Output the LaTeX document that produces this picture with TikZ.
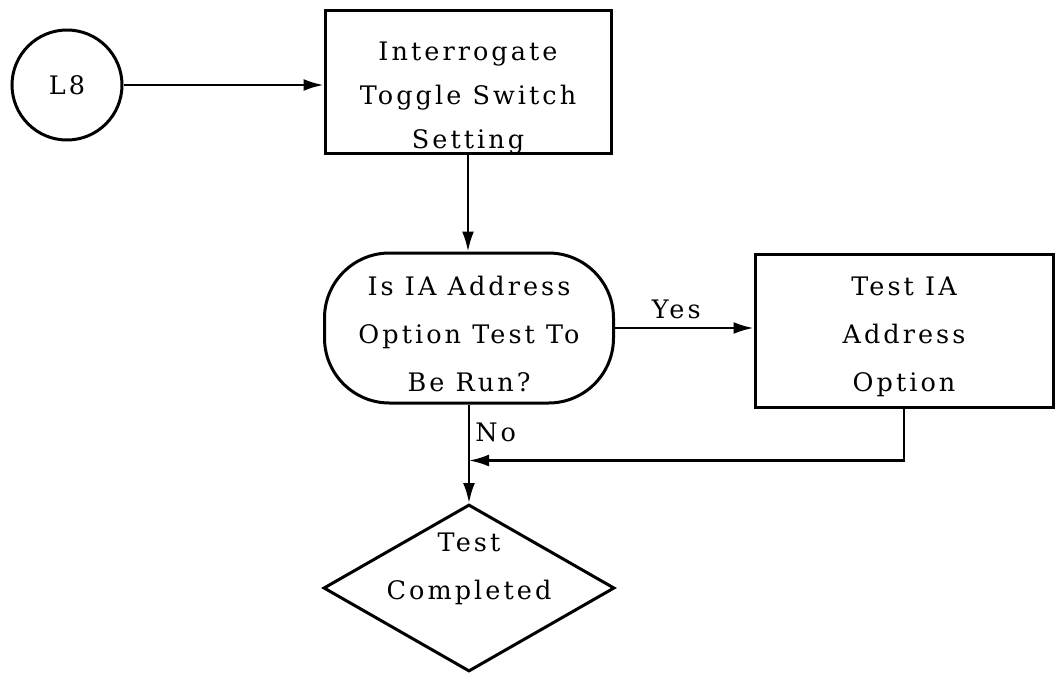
\documentclass[tikz,border=0pt]{standalone}
\usepackage{fontspec}
\usepackage{tikz}
\usetikzlibrary{arrows.meta}
\usetikzlibrary{shapes.geometric}
\usetikzlibrary{calc}
\newfontfamily\chartfamily{DejaVu Serif}[LetterSpace=12]

\tikzset{
  chartfont/.style={font=\chartfamily\fontsize{25.5}{48}\selectfont},
  connector/.style={draw, circle, line width=3pt, minimum size=110pt, inner sep=0pt, chartfont},
  process/.style={draw, rectangle, line width=3pt, inner sep=0pt},
  decision/.style={draw, rectangle, rounded corners=65pt, line width=3pt, inner sep=0pt},
  terminal/.style={draw, diamond, line width=3pt, inner sep=0pt},
  caption/.style={align=center, inner sep=0pt, chartfont},
  flow/.style={line width=2.5pt, -{Latex[length=20pt,width=12pt]}}
}

\begin{document}
\begin{tikzpicture}[x=1pt,y=-1pt]
  \path[use as bounding box, fill=white] (0,0) rectangle (1058,673);
  \node[connector] (l8) at (67,85) {L8};
  \node[process, minimum width=286pt, minimum height=143pt] (interr) at (468,81.5) {};
  \node[caption, font=\chartfamily\fontsize{25.5}{44}\selectfont] (interrtxt) at ([yshift=-17pt]interr.center) {Interrogate\\Toggle Switch\\Setting};
  \node[decision, minimum width=289pt, minimum height=150pt] (iatest) at (469,328) {};
  \node[caption] (iatesttxt) at ([yshift=-6pt]iatest.center) {Is IA Address\\Option Test To\\Be Run?};
  \node[process, minimum width=298pt, minimum height=153pt] (testia) at (904,330.5) {};
  \node[caption] (testiatxt) at ([yshift=-6pt]testia.center) {Test IA\\Address\\Option};
  \node[terminal, minimum width=291pt, minimum height=167pt] (done) at (469,588) {};
  \node[caption] (donetxt) at ([yshift=19pt]done.center) {Test\\Completed};
  \coordinate (merge) at ($(iatest.south)+(0,56)$);
  \draw[flow] (l8.east) -- (l8.east -| interr.west);
  \draw[flow] (interr.south) -- (interr.south |- iatest.north);
  \draw[flow] (iatest.east) -- (iatest.east -| testia.west) node[caption, midway, above=8pt, xshift=-8pt] (yes) {Yes};
  \draw[flow] (iatest.south) -- (done.north) node[caption, pos=0.28, right=5pt] (no) {No};
  \draw[flow] (testia.south) |- (merge);
\end{tikzpicture}
\end{document}
